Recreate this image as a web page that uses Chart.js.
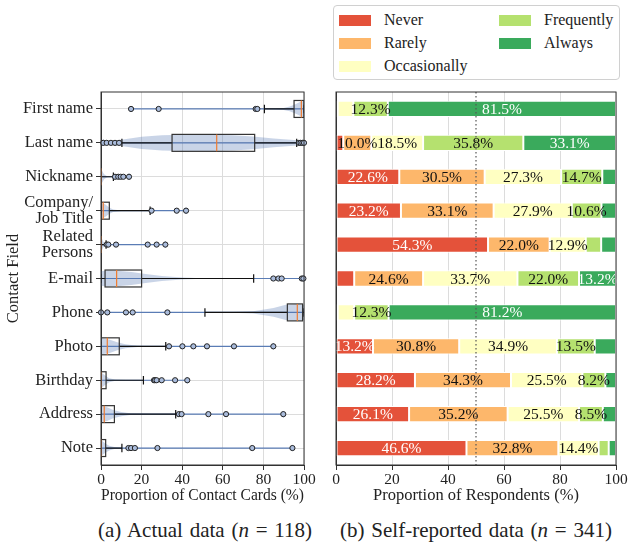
<!DOCTYPE html>
<html>
<head>
<meta charset="utf-8">
<script src="https://cdn.jsdelivr.net/npm/chart.js@4.4.1/dist/chart.umd.min.js"></script>
<style>
  body { margin: 0; background: #fff; font-family: 'Liberation Serif', serif; color: #222; }
  #wrap { position: relative; width: 628px; height: 548px; }
  #leftBox { position: absolute; left: 0; top: 85px; width: 318px; height: 425px; }
  #rightBox { position: absolute; left: 320px; top: 85px; width: 308px; height: 425px; }
  #legend { position: absolute; left: 333px; top: 5px; width: 285px; height: 73px; border: 1px solid #d0d0d0; border-radius: 4px; }
  .item { position: absolute; font-size: 16px; line-height: 16px; white-space: nowrap; }
  .item span { display: inline-block; width: 32px; height: 11px; margin-right: 13px; vertical-align: -1px; }
  .cap { position: absolute; top: 518px; font-family: 'Liberation Serif', serif; font-size: 21px; word-spacing: 1.5px; white-space: nowrap; transform: translateX(-50%); }
</style>
</head>
<body>
<div id="wrap">
  <div id="legend"></div>
  <div id="leftBox"><canvas id="boxChart"></canvas></div>
  <div id="rightBox"><canvas id="barChart"></canvas></div>
  <div class="cap" style="left:205px">(a) Actual data (<i>n</i> = 118)</div>
  <div class="cap" style="left:476px">(b) Self-reported data (<i>n</i> = 341)</div>
</div>
<script>
// Contact fields (rows, top to bottom)
const fields = [['First name'], ['Last name'], ['Nickname'], ['Company/', 'Job Title'], ['Related', 'Persons'],
    ['E-mail'], ['Phone'], ['Photo'], ['Birthday'], ['Address'], ['Note']];
const xTicks = [0, 20, 40, 60, 80, 100];

// (a) Actual data - box plot statistics, % of contact cards
const whiskerLo = [80.5, 10.3, 0, 0, 0, 0, 51.2, 0, 0, 0, 0];
const q1 = [95.1, 35.0, 0, 0, 0, 2.0, 91.8, 0, 0, 0, 0];
const median = [98.7, 57.0, 0, 1.1, 0, 7.7, 96.7, 3.1, 0, 1.6, 0];
const q3 = [100, 75.7, 0, 4.1, 0, 20.0, 99.3, 9.0, 2.5, 6.6, 2.3];
const whiskerHi = [100, 96.4, 6.1, 24.2, 2.5, 75.2, 100, 31.9, 20.9, 36.8, 10.3];
const outliers = [
    [14.8, 28.4, 76.2, 77.0],
    [1.1, 2.8, 4.9, 6.9, 8.9, 97.5, 98.3, 99.2, 100],
    [6.9, 8.5, 9.7, 11.0, 13.8],
    [24.9, 37.3, 41.9],
    [2.8, 3.6, 7.4, 23.0, 27.4, 31.7],
    [84.9, 87.4, 89.0, 98.9, 99.7],
    [0, 3.1, 12.3, 15.6, 32.7],
    [33.5, 40.1, 45.5, 52.2, 65.5, 84.9],
    [26.1, 26.6, 27.4, 29.9, 36.5, 42.5],
    [38.4, 39.7, 52.9, 61.6, 89.8],
    [13.5, 14.8, 16.7, 27.8, 74.5, 94.3]
];
// violin outline: [value %, relative half width]
const violins = [
    [[14.8, 0], [80, 0.01], [85, 0.04], [90, 0.13], [93, 0.3], [96, 0.6], [98, 0.85], [100, 1]],
    [[0, 0.12], [5, 0.25], [10, 0.4], [20, 0.75], [30, 0.95], [40, 1], [55, 1], [65, 0.95], [75, 0.8], [85, 0.55], [95, 0.35], [100, 0.25]],
    [[0, 1], [1.5, 0.3], [3, 0.05], [6, 0.01], [13.8, 0]],
    [[0, 1], [2, 0.8], [4, 0.4], [6, 0.15], [10, 0.03], [41.9, 0]],
    [[0, 1], [1, 0.4], [2, 0.1], [4, 0.02], [31.7, 0]],
    [[0, 0.9], [3, 1], [8, 0.95], [15, 0.8], [22, 0.55], [30, 0.3], [40, 0.12], [50, 0.04], [60, 0.01], [99.7, 0]],
    [[0, 0], [50, 0.01], [65, 0.05], [75, 0.15], [85, 0.55], [91, 0.95], [96, 1], [100, 0.95]],
    [[0, 1], [4, 0.85], [8, 0.5], [12, 0.25], [18, 0.08], [25, 0.02], [84.9, 0]],
    [[0, 1], [2, 0.6], [4, 0.25], [7, 0.08], [12, 0.02], [42.5, 0]],
    [[0, 1], [3, 0.85], [6, 0.5], [10, 0.25], [15, 0.08], [25, 0.02], [89.8, 0]],
    [[0, 1], [2, 0.6], [4, 0.3], [7, 0.1], [12, 0.03], [94.3, 0]]
];

// (b) Self-reported data - % of respondents
const answers = ['Never', 'Rarely', 'Occasionally', 'Frequently', 'Always'];
const answerColors = ['#e4523a', '#fdb76b', '#ffffc2', '#b5e16f', '#3aaa5c'];
const never = [0.3, 2.6, 22.6, 23.2, 54.3, 6.5, 0.3, 13.2, 28.2, 26.1, 46.6];
const rarely = [0.3, 10.0, 30.5, 33.1, 22.0, 24.6, 0.3, 30.8, 34.3, 35.2, 32.8];
const occasionally = [5.6, 18.5, 27.3, 27.9, 12.9, 33.7, 5.9, 34.9, 25.5, 25.5, 14.4];
const frequently = [12.3, 35.8, 14.7, 10.6, 5.5, 22.0, 12.3, 13.5, 8.2, 8.5, 3.6];
const always = [81.5, 33.1, 4.9, 5.2, 5.3, 13.2, 81.2, 7.6, 3.8, 4.7, 2.6];

const serif = "'Liberation Serif', serif";
const yTickFont = { family: serif, size: 16.5, lineHeight: 0.94 };
const xTickFont = { family: serif, size: 15.5 };
const titleFont = { family: serif, size: 16.5 };

// Legend (two columns, filled top to bottom)
const legendEl = document.getElementById('legend');
answers.forEach((name, i) => {
    const col = Math.floor(i / 3), row = i % 3;
    const d = document.createElement('div');
    d.className = 'item';
    d.style.left = (5 + col * 160) + 'px';
    d.style.top = (6 + row * 23) + 'px';
    d.innerHTML = `<span style="background:${answerColors[i]}"></span>${name}`;
    legendEl.appendChild(d);
});

// Frame round the plot area
const framePlugin = {
    id: 'frame',
    afterDraw(chart) {
        const { ctx, chartArea: a } = chart;
        ctx.save();
        ctx.strokeStyle = '#333';
        ctx.lineWidth = 1;
        ctx.strokeRect(a.left, a.top, a.right - a.left, a.bottom - a.top);
        ctx.restore();
    }
};

// Violins, range lines, boxes and whiskers
const boxPlugin = {
    id: 'boxes',
    beforeDatasetsDraw(chart) {
        const { ctx, chartArea: a, scales: { x, y } } = chart;
        const band = Math.abs(y.getPixelForValue(1) - y.getPixelForValue(0));
        const half = band * 0.25;
        ctx.save();
        ctx.beginPath();
        ctx.rect(a.left, a.top, a.right - a.left, a.bottom - a.top);
        ctx.clip();
        fields.forEach((f, i) => {
            const cy = y.getPixelForValue(i);
            // violin body
            const prof = violins[i];
            ctx.beginPath();
            prof.forEach(([v, w], k) => {
                const px = x.getPixelForValue(v);
                if (k === 0) ctx.moveTo(px, cy - w * half * 0.95);
                else ctx.lineTo(px, cy - w * half * 0.95);
            });
            for (let k = prof.length - 1; k >= 0; k--) {
                ctx.lineTo(x.getPixelForValue(prof[k][0]), cy + prof[k][1] * half * 0.95);
            }
            ctx.closePath();
            ctx.fillStyle = 'rgba(76, 114, 176, 0.3)';
            ctx.fill();

            // range line (min to max) with small caps
            const all = outliers[i].concat([whiskerLo[i], whiskerHi[i]]);
            const lo = x.getPixelForValue(Math.min(...all));
            const hi = x.getPixelForValue(Math.max(...all));
            ctx.strokeStyle = 'rgba(76, 114, 176, 0.9)';
            ctx.lineWidth = 1.2;
            ctx.beginPath();
            ctx.moveTo(lo, cy); ctx.lineTo(hi, cy);
            ctx.moveTo(lo, cy - 3); ctx.lineTo(lo, cy + 3);
            ctx.moveTo(hi, cy - 3); ctx.lineTo(hi, cy + 3);
            ctx.stroke();

            // whiskers
            const wl = x.getPixelForValue(whiskerLo[i]), wh = x.getPixelForValue(whiskerHi[i]);
            const b1 = x.getPixelForValue(q1[i]), b3 = x.getPixelForValue(q3[i]);
            ctx.strokeStyle = '#111';
            ctx.lineWidth = 1.2;
            ctx.beginPath();
            ctx.moveTo(wl, cy); ctx.lineTo(b1, cy);
            ctx.moveTo(b3, cy); ctx.lineTo(wh, cy);
            ctx.moveTo(wl, cy - half / 2); ctx.lineTo(wl, cy + half / 2);
            ctx.moveTo(wh, cy - half / 2); ctx.lineTo(wh, cy + half / 2);
            ctx.stroke();

            // box
            ctx.strokeStyle = '#333';
            ctx.strokeRect(b1, cy - half, b3 - b1, half * 2);
            // median
            const m = x.getPixelForValue(median[i]);
            ctx.strokeStyle = '#f07c30';
            ctx.beginPath();
            ctx.moveTo(m, cy - half); ctx.lineTo(m, cy + half);
            ctx.stroke();
        });
        ctx.restore();
    }
};

const outlierPoints = [];
outliers.forEach((row, i) => row.forEach(v => outlierPoints.push({ x: v, y: i })));

const noPad = axis => { axis.paddingTop = 0; axis.paddingBottom = 0; axis.paddingLeft = 0; axis.paddingRight = 0; };

new Chart(document.getElementById('boxChart'), {
    type: 'scatter',
    data: {
        datasets: [{
            data: outlierPoints,
            pointRadius: 2.6,
            pointBackgroundColor: 'rgba(170, 188, 220, 1)',
            pointBorderColor: '#222',
            pointBorderWidth: 1,
            clip: false
        }]
    },
    options: {
        responsive: true,
        maintainAspectRatio: false,
        animation: false,
        layout: { padding: { top: 7, right: 14, left: 0, bottom: 0 } },
        plugins: { legend: { display: false }, tooltip: { enabled: false } },
        scales: {
            x: {
                type: 'linear', min: 0, max: 100,
                afterBuildTicks: axis => { axis.ticks = xTicks.map(v => ({ value: v })); },
                afterFit: axis => { axis.height = 45; noPad(axis); },
                grid: { color: '#dcdcdc', tickColor: '#333', tickLength: 5 },
                border: { color: '#333' },
                ticks: { color: '#222', font: xTickFont, padding: 1, maxRotation: 0 },
                title: { display: true, text: 'Proportion of Contact Cards (%)', color: '#222', font: titleFont, padding: { top: 0 } }
            },
            y: {
                type: 'linear', min: -0.5, max: 10.5, reverse: true,
                afterBuildTicks: axis => { axis.ticks = fields.map((f, i) => ({ value: i })); },
                afterFit: axis => { axis.width = 101; noPad(axis); },
                grid: { color: '#dcdcdc', tickColor: '#333', tickLength: 5 },
                border: { color: '#333' },
                ticks: { color: '#222', font: yTickFont, padding: 3, callback: v => fields[v] },
                title: { display: true, text: 'Contact Field', color: '#222', font: titleFont, padding: { bottom: 0 } }
            }
        }
    },
    plugins: [boxPlugin, framePlugin]
});

// Percentage labels and 50% guide on the bar chart
const barExtras = {
    id: 'barExtras',
    afterDatasetsDraw(chart) {
        const { ctx, chartArea: a, scales: { x } } = chart;
        ctx.save();
        ctx.font = `15.5px ${serif}`;
        ctx.textAlign = 'center';
        ctx.textBaseline = 'middle';
        chart.data.datasets.forEach((ds, di) => {
            chart.getDatasetMeta(di).data.forEach((bar, i) => {
                const v = ds.data[i];
                if (v < 8) return;
                ctx.fillStyle = (di === 0 || di === 4) ? '#fff' : '#111';
                ctx.fillText(v.toFixed(1) + '%', (bar.x + bar.base) / 2, bar.y + 1);
            });
        });
        const px = x.getPixelForValue(50);
        ctx.strokeStyle = '#555';
        ctx.lineWidth = 1.2;
        ctx.setLineDash([1.5, 2.5]);
        ctx.beginPath();
        ctx.moveTo(px, a.top); ctx.lineTo(px, a.bottom);
        ctx.stroke();
        ctx.restore();
    }
};

const series = [never, rarely, occasionally, frequently, always];
new Chart(document.getElementById('barChart'), {
    type: 'bar',
    data: {
        labels: fields.map(f => f.join(' ')),
        datasets: answers.map((name, i) => ({
            label: name,
            data: series[i],
            backgroundColor: answerColors[i],
            borderColor: '#fff',
            borderWidth: 1,
            borderSkipped: false,
            barPercentage: 0.48,
            categoryPercentage: 1
        }))
    },
    options: {
        indexAxis: 'y',
        responsive: true,
        maintainAspectRatio: false,
        animation: false,
        layout: { padding: { top: 7, right: 12, left: 0, bottom: 0 } },
        plugins: { legend: { display: false }, tooltip: { enabled: false } },
        scales: {
            x: {
                stacked: true, min: 0, max: 100,
                afterBuildTicks: axis => { axis.ticks = xTicks.map(v => ({ value: v })); },
                afterFit: axis => { axis.height = 45; noPad(axis); },
                grid: { color: '#dcdcdc', tickColor: '#333', tickLength: 5 },
                border: { color: '#333' },
                ticks: { color: '#222', font: xTickFont, padding: 1, maxRotation: 0 },
                title: { display: true, text: 'Proportion of Respondents (%)', color: '#222', font: titleFont, padding: { top: 0 } }
            },
            y: {
                stacked: true,
                afterFit: axis => { axis.width = 16; noPad(axis); },
                grid: { display: false },
                border: { color: '#333' },
                ticks: { display: false }
            }
        }
    },
    plugins: [barExtras, framePlugin]
});
</script>
</body>
</html>
